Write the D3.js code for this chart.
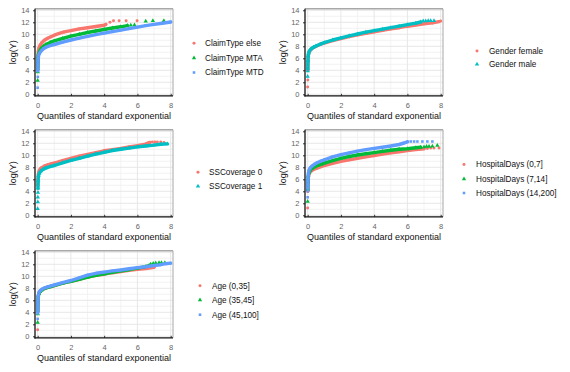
<!DOCTYPE html>
<html><head><meta charset="utf-8">
<script src="https://cdn.jsdelivr.net/npm/d3@7"></script>
<style>body{margin:0;background:#fff}svg{display:block;font-family:"Liberation Sans",Arial,sans-serif}</style>
</head><body>
<script>
// ---------- data ----------
const xTicks = [0,2,4,6,8];
const yTicks = [0,2,4,6,8,10,12,14];
const xTitle = "Quantiles of standard exponential";
const yTitle = "log(Y)";

const colRed = "#F8766D", colGreen = "#00BA38", colBlue = "#619CFF", colCyan = "#00BFC4";

// Panel 1: ClaimType
const claimElseBand = [[0.01,4.5],[0.015,5.5],[0.02,6.5],[0.04,7.2],[0.08,7.7],[0.15,8.2],[0.25,8.6],[0.4,9.0],[0.6,9.35],[0.8,9.6],[1.0,9.85],[1.3,10.15],[1.6,10.4],[2.0,10.6],[2.5,10.9],[3.0,11.1],[3.5,11.3],[4.0,11.5],[4.1,11.65]];
const claimElseTail = [[4.35,12.0],[4.56,12.25],[4.9,12.25],[5.32,12.25],[5.98,12.25]];
const claimMTABand = [[0.01,4.2],[0.02,5.5],[0.03,6.3],[0.06,6.8],[0.1,7.1],[0.2,7.6],[0.35,8.0],[0.5,8.3],[0.75,8.65],[1.0,8.9],[1.5,9.3],[2.0,9.7],[2.5,10.0],[3.0,10.3],[3.5,10.55],[4.0,10.8],[4.5,11.05],[5.0,11.25],[5.4,11.45]];
const claimMTATail = [[0.0,2.3],[0.01,3.7],[5.6,11.5],[5.82,11.55],[6.5,12.17],[6.93,12.27],[7.59,12.27]];
const claimMTDBand = [[0.01,3.9],[0.02,5.3],[0.03,6.0],[0.06,6.5],[0.1,6.8],[0.2,7.2],[0.35,7.6],[0.5,7.85],[0.75,8.1],[1.0,8.3],[1.5,8.7],[2.0,9.05],[2.5,9.35],[3.0,9.65],[3.5,9.95],[4.0,10.2],[4.5,10.45],[5.0,10.7],[5.5,10.95],[6.0,11.2],[6.5,11.45],[7.0,11.65],[7.5,11.85],[8.0,12.05]];
const claimMTDTail = [[0.0,1.1],[0.01,2.9]];

// Panel 2: Gender
const femaleBand = [[0.01,4.0],[0.02,5.5],[0.03,6.3],[0.06,6.8],[0.1,7.1],[0.2,7.5],[0.35,7.8],[0.5,8.0],[0.75,8.3],[1.0,8.55],[1.5,8.95],[2.0,9.3],[2.5,9.6],[3.0,9.9],[3.5,10.15],[4.0,10.4],[4.5,10.65],[5.0,10.9],[5.5,11.1],[6.0,11.35],[6.5,11.55],[7.0,11.75],[7.5,11.9],[7.9,12.1]];
const femaleTail = [[0.0,1.2],[0.01,2.4],[8.0,12.2]];
const maleBand = [[0.01,4.3],[0.02,5.6],[0.03,6.4],[0.06,6.9],[0.1,7.2],[0.2,7.55],[0.35,7.85],[0.5,8.05],[0.75,8.35],[1.0,8.6],[1.5,9.05],[2.0,9.4],[2.5,9.75],[3.0,10.05],[3.5,10.35],[4.0,10.6],[4.5,10.85],[5.0,11.1],[5.5,11.35],[6.0,11.6],[6.5,11.85],[6.8,12.05]];
const maleTail = [[0.0,2.95],[0.01,3.9],[6.95,12.2],[7.1,12.2],[7.25,12.25],[7.4,12.25],[7.6,12.25]];

// Panel 3: SSCoverage
const ss0Band = [[0.01,5.0],[0.02,6.0],[0.04,6.8],[0.08,7.3],[0.15,7.7],[0.25,7.95],[0.4,8.2],[0.6,8.4],[0.8,8.55],[1.0,8.7],[1.5,9.1],[2.0,9.5],[2.5,9.85],[3.0,10.15],[3.5,10.45],[4.0,10.75],[4.5,10.95],[5.0,11.15],[5.5,11.4],[6.0,11.6],[6.4,11.8],[6.6,12.0],[6.75,12.15]];
const ss0Tail = [[6.9,12.2],[7.05,12.2],[7.2,12.2],[7.4,12.2],[7.6,12.15]];
const ss1Band = [[0.02,4.5],[0.03,5.8],[0.05,6.6],[0.1,7.0],[0.2,7.4],[0.35,7.7],[0.5,7.9],[0.75,8.1],[1.0,8.3],[1.5,8.75],[2.0,9.15],[2.5,9.5],[3.0,9.85],[3.5,10.2],[4.0,10.5],[4.5,10.8],[5.0,11.0],[5.5,11.2],[6.0,11.4],[6.5,11.55],[7.0,11.7],[7.4,11.85],[7.8,11.9]];
const ss1Tail = [[0.0,1.1],[0.01,2.2],[0.01,3.0],[0.02,3.8]];

// Panel 4: HospitalDays
const hosp07Band = [[0.01,4.0],[0.02,5.3],[0.04,6.3],[0.08,6.9],[0.15,7.2],[0.25,7.45],[0.4,7.7],[0.6,7.9],[0.8,8.1],[1.0,8.3],[1.5,8.65],[2.0,9.0],[2.5,9.25],[3.0,9.5],[3.5,9.75],[4.0,9.95],[4.5,10.2],[5.0,10.4],[5.5,10.6],[6.0,10.8],[6.5,10.95],[7.0,11.1]];
const hosp07Tail = [[0.0,1.2],[7.2,11.15],[7.4,11.2],[7.6,11.2],[7.9,11.2]];
const hosp714Band = [[0.01,4.3],[0.02,5.6],[0.04,6.6],[0.08,7.1],[0.15,7.5],[0.25,7.8],[0.4,8.05],[0.6,8.3],[0.8,8.5],[1.0,8.7],[1.5,9.1],[2.0,9.5],[2.5,9.8],[3.0,10.05],[3.5,10.25],[4.0,10.45],[4.5,10.65],[5.0,10.85],[5.5,11.0],[6.0,11.1],[6.5,11.25],[6.8,11.35]];
const hosp714Tail = [[0.0,2.3],[7.0,11.4],[7.15,11.45],[7.3,11.45],[7.5,11.5],[7.8,11.65]];
const hosp14Band = [[0.01,4.5],[0.02,6.0],[0.04,6.9],[0.08,7.5],[0.15,7.9],[0.25,8.2],[0.4,8.5],[0.6,8.8],[0.8,9.05],[1.0,9.25],[1.5,9.75],[2.0,10.1],[2.5,10.4],[3.0,10.7],[3.5,10.95],[4.0,11.15],[4.5,11.35],[5.0,11.55],[5.5,11.8],[5.8,12.05],[6.0,12.25]];
const hosp14Tail = [[0.0,3.0],[0.01,4.0],[6.2,12.3],[6.4,12.3],[6.6,12.3],[6.9,12.3],[7.2,12.3],[7.5,12.3]];

// Panel 5: Age
const age035Band = [[0.01,4.5],[0.02,6.0],[0.04,6.8],[0.08,7.2],[0.15,7.5],[0.25,7.75],[0.4,7.95],[0.6,8.15],[0.8,8.3],[1.0,8.45],[1.5,8.85],[2.0,9.15],[2.5,9.5],[3.0,9.85],[3.5,10.15],[4.0,10.35],[4.5,10.6],[5.0,10.8],[5.5,11.0],[6.0,11.15],[6.5,11.3],[7.0,11.5]];
const age035Tail = [[0.0,1.1]];
const age3545Band = [[0.01,4.2],[0.02,5.8],[0.04,6.7],[0.08,7.15],[0.15,7.45],[0.25,7.7],[0.4,7.95],[0.6,8.15],[0.8,8.3],[1.0,8.45],[1.5,8.85],[2.0,9.15],[2.5,9.5],[3.0,9.85],[3.5,10.15],[4.0,10.4],[4.5,10.65],[5.0,10.9],[5.5,11.1],[6.0,11.35],[6.5,11.6],[6.7,11.8]];
const age3545Tail = [[0.0,2.3],[0.01,3.7],[6.8,12.0],[6.95,12.15],[7.1,12.2],[7.3,12.25],[7.45,12.25],[7.65,12.25]];
const age45Band = [[0.01,4.0],[0.02,5.8],[0.04,6.8],[0.08,7.3],[0.15,7.6],[0.25,7.85],[0.4,8.05],[0.6,8.25],[0.8,8.4],[1.0,8.55],[1.5,8.95],[2.0,9.3],[2.5,9.75],[3.0,10.2],[3.5,10.5],[4.0,10.7],[4.5,10.9],[5.0,11.05],[5.5,11.25],[6.0,11.45],[6.5,11.6],[7.0,11.8],[7.35,11.9],[7.7,12.1],[8.0,12.2]];
const age45Tail = [[0.0,2.9],[0.01,3.8]];

const claimLabels = ["ClaimType else","ClaimType MTA","ClaimType MTD"];
const genderLabels = ["Gender female","Gender male"];
const ssLabels = ["SSCoverage 0","SSCoverage 1"];
const hospLabels = ["HospitalDays (0,7]","HospitalDays (7,14]","HospitalDays (14,200]"];
const ageLabels = ["Age (0,35]","Age (35,45]","Age (45,100]"];

// ---------- layout ----------
const panels = [
  {col:0,row:0,labels:claimLabels,colors:[colRed,colGreen,colBlue],shapes:["circle","triangle","square"],
   bands:[claimElseBand,claimMTABand,claimMTDBand],tails:[claimElseTail,claimMTATail,claimMTDTail],
   leg:{mx:194,tx:205,ys:[43.3,58,72.5]}},
  {col:1,row:0,labels:genderLabels,colors:[colRed,colCyan],shapes:["circle","triangle"],
   bands:[femaleBand,maleBand],tails:[femaleTail,maleTail],
   leg:{mx:477,tx:489,ys:[51,64.3]}},
  {col:0,row:1,labels:ssLabels,colors:[colRed,colCyan],shapes:["circle","triangle"],
   bands:[ss0Band,ss1Band],tails:[ss0Tail,ss1Tail],
   leg:{mx:198,tx:209,ys:[172.3,186.3]}},
  {col:1,row:1,labels:hospLabels,colors:[colRed,colGreen,colBlue],shapes:["circle","triangle","square"],
   bands:[hosp07Band,hosp714Band,hosp14Band],tails:[hosp07Tail,hosp714Tail,hosp14Tail],
   leg:{mx:464,tx:476,ys:[164.5,179,193]}},
  {col:0,row:2,labels:ageLabels,colors:[colRed,colGreen,colBlue],shapes:["circle","triangle","square"],
   bands:[age035Band,age3545Band,age45Band],tails:[age035Tail,age3545Tail,age45Tail],
   leg:{mx:200,tx:212,ys:[285.7,300,314.7]}}
];

const svg = d3.select("body").append("svg").attr("width",570).attr("height",372);

const symGen = {
  circle: d3.symbol(d3.symbolCircle, 7),
  triangle: d3.symbol(d3.symbolTriangle, 8),
  square: d3.symbol(d3.symbolSquare, 6.5)
};

panels.forEach(p => {
  const cx = p.col*270, y0 = 94.3 + p.row*121;
  const x = d3.scaleLinear().domain([-0.16, 8.14]).range([35+cx, 173+cx]);
  const y = d3.scaleLinear().domain([-0.25, 14.25]).range([y0+1.5, y0-85.5]);
  const g = svg.append("g");
  const [xl,xr] = x.range(), [yb,yt] = y.range();

  // minor grid
  const minorX = d3.range(1,9,2), minorY = d3.range(1,15,2);
  g.selectAll(null).data(minorX).join("line").attr("x1",d=>x(d)).attr("x2",d=>x(d)).attr("y1",yb).attr("y2",yt).attr("stroke","#f0f0f0").attr("stroke-width",0.8);
  g.selectAll(null).data(minorY).join("line").attr("y1",d=>y(d)).attr("y2",d=>y(d)).attr("x1",xl).attr("x2",xr).attr("stroke","#f0f0f0").attr("stroke-width",0.8);
  // major grid
  g.selectAll(null).data(xTicks).join("line").attr("x1",d=>x(d)).attr("x2",d=>x(d)).attr("y1",yb).attr("y2",yt).attr("stroke","#e4e4e4").attr("stroke-width",0.9);
  g.selectAll(null).data(yTicks).join("line").attr("y1",d=>y(d)).attr("y2",d=>y(d)).attr("x1",xl).attr("x2",xr).attr("stroke","#e4e4e4").attr("stroke-width",0.9);
  // top/right border
  g.append("line").attr("x1",xl).attr("x2",xr).attr("y1",yt).attr("y2",yt).attr("stroke","#a8a8a8").attr("stroke-width",1.4);
  g.append("line").attr("x1",xr).attr("x2",xr).attr("y1",yt).attr("y2",yb).attr("stroke","#a8a8a8").attr("stroke-width",1);

  // series
  const line = d3.line().x(d=>x(d[0])).y(d=>y(d[1]));
  p.bands.forEach((band,i) => {
    g.append("path").attr("d",line(band)).attr("fill","none").attr("stroke",p.colors[i])
      .attr("stroke-width",3.4).attr("stroke-linejoin","round").attr("stroke-linecap","round");
    const pts = band.concat(p.tails[i]);
    g.selectAll(null).data(pts).join("path")
      .attr("transform",d=>`translate(${x(d[0])},${y(d[1])})`)
      .attr("d",symGen[p.shapes[i]]()).attr("fill",p.colors[i]);
  });

  // axes
  const ax = g.append("g").attr("transform",`translate(0,${yb})`)
    .call(d3.axisBottom(x).tickValues(xTicks).tickSize(-2).tickPadding(6.5));
  const ay = g.append("g").attr("transform",`translate(${xl},0)`)
    .call(d3.axisLeft(y).tickValues(yTicks).tickSize(2).tickPadding(3.5));
  [ax,ay].forEach(a => {
    a.select(".domain").remove();
    a.selectAll("line").attr("stroke","#333");
    a.selectAll("text").attr("fill","#666").attr("font-size","7.5px").attr("font-family","Liberation Sans, Arial, sans-serif");
  });
  g.append("line").attr("x1",xl).attr("x2",xl).attr("y1",yt).attr("y2",yb+0.6).attr("stroke","#111").attr("stroke-width",1.3);
  g.append("line").attr("x1",xl-0.6).attr("x2",xr).attr("y1",yb).attr("y2",yb).attr("stroke","#111").attr("stroke-width",1.3);

  // titles
  g.append("text").attr("x",(xl+xr)/2).attr("y",y0+25).attr("text-anchor","middle")
    .attr("font-size","9px").attr("fill","#111").text(xTitle);
  g.append("text").attr("transform",`translate(${15.8+cx},${(yb+yt)/2}) rotate(-90)`).attr("text-anchor","middle")
    .attr("font-size","9px").attr("fill","#111").text(yTitle);

  // legend
  p.labels.forEach((lab,i) => {
    const ly = p.leg.ys[i];
    g.append("path").attr("transform",`translate(${p.leg.mx},${ly})`).attr("d",symGen[p.shapes[i]]()).attr("fill",p.colors[i]);
    g.append("text").attr("x",p.leg.tx).attr("y",ly).attr("dy","0.35em").attr("font-size","8.2px").attr("fill","#111").text(lab);
  });
});
</script>
</body></html>
